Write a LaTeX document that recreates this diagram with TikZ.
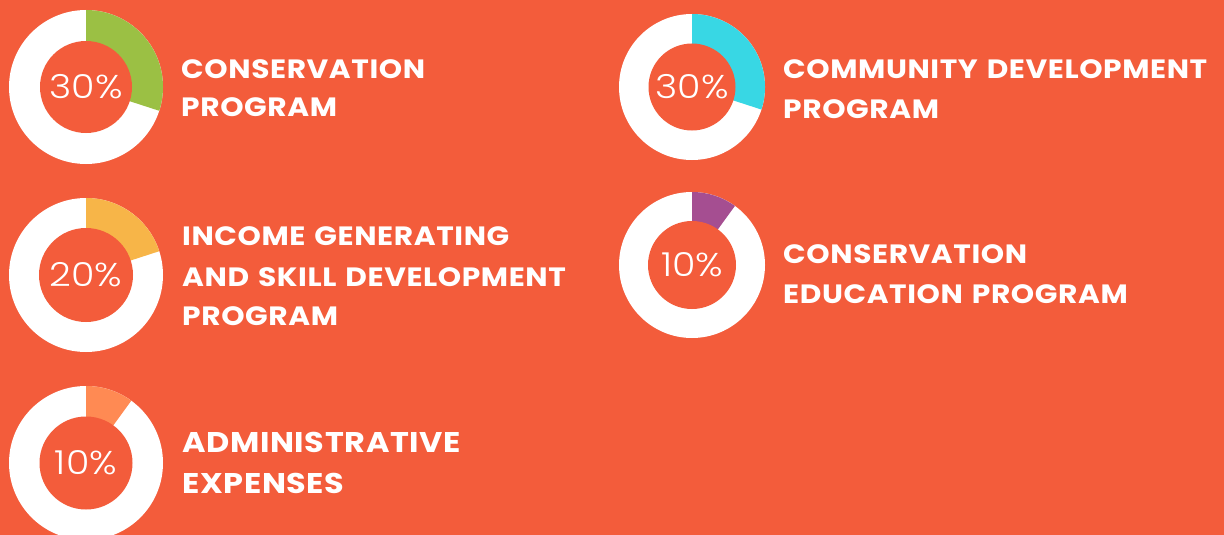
\documentclass[tikz,border=0pt]{standalone}
\usepackage{fontspec}
\setmainfont{Poppins}[UprightFont={* Bold}]
\newfontfamily\lblfont{Poppins}[UprightFont={* Bold}, LetterSpace=2, WordSpace=1.3]
\newfontfamily\pctfont{Poppins}[UprightFont={* Light}]
\definecolor{bg}{HTML}{F35C3B}
\definecolor{cgreen}{HTML}{9BC044}
\definecolor{ccyan}{HTML}{38D7E4}
\definecolor{cyellow}{HTML}{F7B548}
\definecolor{cpurple}{HTML}{A54E91}
\definecolor{corange}{HTML}{FF8A53}
\tikzset{
  lbl/.style={anchor=base west, text=white, inner sep=0pt, xscale=1.12, font=\lblfont\fontsize{26.5}{31}\selectfont},
  lblbig/.style={anchor=base west, text=white, inner sep=0pt, xscale=1.12, font=\lblfont\fontsize{28.5}{33}\selectfont},
  pct/.style={text=white, inner sep=0pt, xscale=1.15, font=\pctfont\fontsize{33}{38}\selectfont}
}
\newcommand{\mydonut}[8]{%
  % #1 name, #2 cx, #3 cy, #4 R, #5 r, #6 percent, #7 colour, #8 label
  \coordinate (#1) at (#2,#3);
  \fill[white] (#1) circle[radius=#4];
  \fill[#7] (#1) -- ++(-90:#4) arc[start angle=-90, end angle={-90+3.6*#6}, radius=#4] -- cycle;
  \fill[bg] (#1) circle[radius=#5];
  \node[pct] (#1t) at (#1) {#8};
}
\begin{document}
\begin{tikzpicture}[x=1pt,y=-1pt]
\fill[bg] (0,0) rectangle (1224,535);
\useasboundingbox (0,0) rectangle (1224,535);
\mydonut{d1}{86}{87}{77}{46}{30}{cgreen}{30\%}
\mydonut{d2}{692}{87}{73}{43.5}{30}{ccyan}{30\%}
\mydonut{d3}{86}{275}{77}{47}{20}{cyellow}{20\%}
\mydonut{d4}{692}{265}{73}{44}{10}{cpurple}{10\%}
\mydonut{d5}{86}{463}{77}{46.5}{10}{corange}{10\%}
\node[lbl] (a1) at (181,78) {CONSERVATION};
\node[lbl] (a2) at (181,117) {PROGRAM};
\node[lbl] (b1) at (783,78) {COMMUNITY DEVELOPMENT};
\node[lbl] (b2) at (783,118) {PROGRAM};
\node[lbl] (c1) at (182,245) {INCOME GENERATING};
\node[lbl] (c2) at (182,286) {AND SKILL DEVELOPMENT};
\node[lbl] (c3) at (182,325) {PROGRAM};
\node[lbl] (e1) at (783,263) {CONSERVATION};
\node[lbl] (e2) at (783,303) {EDUCATION PROGRAM};
\node[lblbig] (f1) at (182,452) {ADMINISTRATIVE};
\node[lblbig] (f2) at (182,493) {EXPENSES};
\end{tikzpicture}
\end{document}
